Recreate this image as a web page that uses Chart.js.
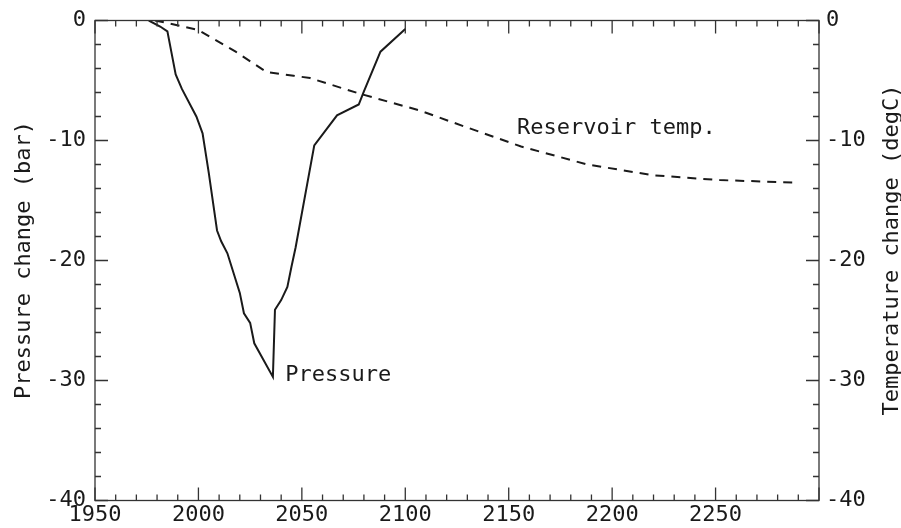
<!DOCTYPE html>
<html>
<head>
<meta charset="utf-8">
<script src="https://cdn.jsdelivr.net/npm/chart.js@4.4.0/dist/chart.umd.min.js"></script>
<style>
  html, body { margin: 0; padding: 0; background: #fff; }
  #wrap { width: 901px; height: 528px; }
</style>
</head>
<body>
<div id="wrap"><canvas id="reservoirChart" width="901" height="528"></canvas></div>
<script>
// values
const pressureYears  = [1976, 1981.5, 1985, 1989, 1992, 1999, 2002, 2005, 2009, 2011, 2014, 2020, 2022, 2025, 2027, 2036,
                        2037, 2040, 2043, 2045, 2047, 2056, 2067, 2077.5, 2080, 2088, 2100];
const pressureValues = [0, -0.5, -0.9, -4.5, -5.7, -8.0, -9.4, -12.7, -17.5, -18.4, -19.4, -22.7, -24.4, -25.2, -26.9, -29.7,
                        -24.1, -23.3, -22.2, -20.5, -18.9, -10.4, -7.9, -7.0, -5.9, -2.6, -0.7];

const tempYears  = [1979, 1986, 2000, 2018, 2033, 2046, 2054, 2078, 2107, 2128, 2156, 2188, 2220, 2252, 2288];
const tempValues = [0, -0.25, -0.8, -2.6, -4.3, -4.6, -4.8, -6.1, -7.5, -8.8, -10.5, -12.0, -12.9, -13.3, -13.5];

const xTickLabels = [1950, 2000, 2050, 2100, 2150, 2200, 2250];
const yTickLabels = [0, -10, -20, -30, -40];

const xRange = [1950, 2300];
const yRange = [-40, 0];
const xMinorStep = 10, xMajorStep = 50;
const yMinorStep = 2, yMajorStep = 10;

const FONT = { family: '"DejaVu Sans Mono", "Liberation Mono", monospace', size: 22 };
const INK = '#1a1a1a';

const toPoints = (xs, ys) => xs.map((x, i) => ({ x: x, y: ys[i] }));

// frame, inward ticks on all four sides, titles and curve labels
const framePlugin = {
  id: 'frame',
  afterDraw(chart) {
    const { ctx, chartArea: a } = chart;
    const x = chart.scales.x, y = chart.scales.y, y2 = chart.scales.y2;
    ctx.save();
    ctx.strokeStyle = '#333';
    ctx.lineWidth = 1.3;
    ctx.strokeRect(a.left, a.top, a.right - a.left, a.bottom - a.top);

    ctx.beginPath();
    for (let yr = xRange[0]; yr <= xRange[1]; yr += xMinorStep) {
      const px = x.getPixelForValue(yr);
      const len = yr % xMajorStep === 0 ? 13 : 6;
      ctx.moveTo(px, a.bottom); ctx.lineTo(px, a.bottom - len);
      ctx.moveTo(px, a.top); ctx.lineTo(px, a.top + len);
    }
    for (let v = yRange[1]; v >= yRange[0]; v -= yMinorStep) {
      const py = y.getPixelForValue(v);
      const len = v % yMajorStep === 0 ? 13 : 6;
      ctx.moveTo(a.left, py); ctx.lineTo(a.left + len, py);
      ctx.moveTo(a.right, py); ctx.lineTo(a.right - len, py);
    }
    ctx.stroke();

    ctx.fillStyle = INK;
    ctx.font = FONT.size + 'px ' + FONT.family;
    ctx.textBaseline = 'middle';

    // curve labels
    ctx.textAlign = 'left';
    ctx.fillText('Pressure', x.getPixelForValue(2042), y.getPixelForValue(-29.6));
    ctx.fillText('Reservoir temp.', x.getPixelForValue(2154), y2.getPixelForValue(-9));

    // axis titles, both reading bottom to top
    ctx.textAlign = 'center';
    ctx.save();
    ctx.translate(24, 260);
    ctx.rotate(-Math.PI / 2);
    ctx.fillText('Pressure change (bar)', 0, 0);
    ctx.restore();
    ctx.save();
    ctx.translate(892, 250);
    ctx.rotate(-Math.PI / 2);
    ctx.fillText('Temperature change (degC)', 0, 0);
    ctx.restore();

    ctx.restore();
  }
};

const setTicks = list => scale => { scale.ticks = list.map(v => ({ value: v })); };
const plain = v => String(v);

const ctx = document.getElementById('reservoirChart').getContext('2d');
new Chart(ctx, {
  type: 'line',
  data: {
    datasets: [{
      label: 'Pressure',
      data: toPoints(pressureYears, pressureValues),
      borderColor: INK,
      borderWidth: 2,
      pointRadius: 0,
      tension: 0,
      fill: false,
      yAxisID: 'y'
    }, {
      label: 'Reservoir temp.',
      data: toPoints(tempYears, tempValues),
      borderColor: INK,
      borderWidth: 2,
      borderDash: [9, 7],
      pointRadius: 0,
      tension: 0,
      fill: false,
      yAxisID: 'y2'
    }]
  },
  options: {
    responsive: false,
    animation: false,
    layout: { padding: { top: 20.5, left: 0, right: 0, bottom: 0 } },
    plugins: { legend: { display: false }, tooltip: { enabled: false } },
    scales: {
      x: {
        type: 'linear', min: xRange[0], max: xRange[1],
        afterBuildTicks: setTicks(xTickLabels),
        grid: { display: false, drawTicks: false },
        border: { display: false },
        ticks: { font: FONT, color: INK, padding: 2, maxRotation: 0, autoSkip: false, callback: plain },
        afterFit: s => { s.height = 27.5; s.paddingLeft = 0; s.paddingRight = 0; }
      },
      y: {
        position: 'left', min: yRange[0], max: yRange[1],
        afterBuildTicks: setTicks(yTickLabels),
        grid: { display: false, drawTicks: false },
        border: { display: false },
        ticks: { font: FONT, color: INK, padding: 9, callback: plain },
        afterFit: s => { s.width = 95; s.paddingTop = 0; s.paddingBottom = 0; }
      },
      y2: {
        position: 'right', min: yRange[0], max: yRange[1],
        afterBuildTicks: setTicks(yTickLabels),
        grid: { display: false, drawTicks: false },
        border: { display: false },
        ticks: { font: FONT, color: INK, padding: 7, callback: plain },
        afterFit: s => { s.width = 82; s.paddingTop = 0; s.paddingBottom = 0; }
      }
    }
  },
  plugins: [framePlugin]
});
</script>
</body>
</html>
